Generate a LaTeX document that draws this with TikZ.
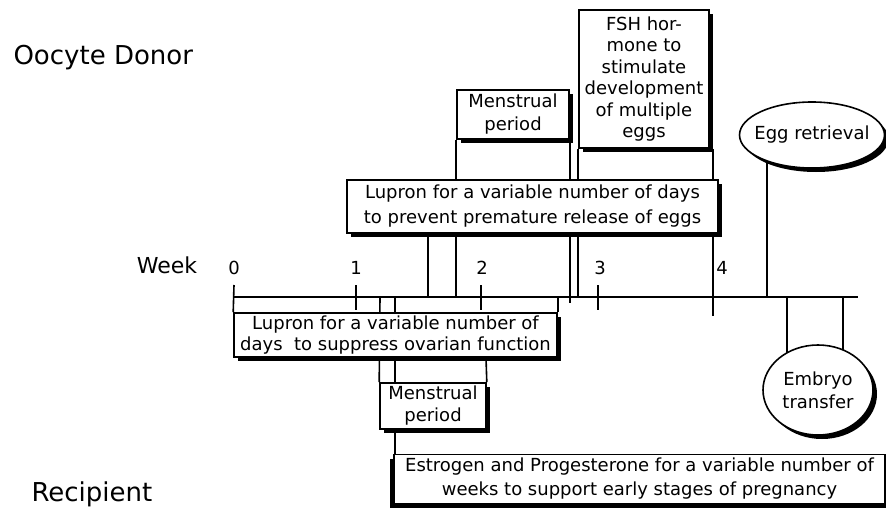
\documentclass[tikz,border=0pt]{standalone}
\usepackage{fontspec}
\setmainfont{DejaVu Sans}
\usetikzlibrary{shadows,backgrounds,shapes.geometric}

\begin{document}
\begin{tikzpicture}[x=1pt, y=-1pt,
  box/.style={draw, line width=1.6pt, fill=white, align=center, inner sep=1pt,
    font=\fontsize{18}{25}\selectfont,
    drop shadow={shadow xshift=4pt, shadow yshift=-4pt, fill=black, opacity=1}},
  oval/.style={box, ellipse},
  lbl/.style={font=\fontsize{26}{30}\selectfont},
  num/.style={font=\fontsize{18}{20}\selectfont},
  link/.style={line width=1.6pt}]

\useasboundingbox (0,0) rectangle (886,508);

\node[lbl, anchor=west] (donor) at (10,58) {Oocyte Donor};
\node[lbl, anchor=west] (recip) at (28,494) {Recipient};
\node[font=\fontsize{22}{24}\selectfont] (week) at (167,265) {Week};

\node[box, minimum width=371pt, minimum height=53pt] (lupU) at (532.5,206.5)
  {Lupron for a variable number of days\\to prevent premature release of eggs};
\node[box, minimum width=112pt, minimum height=49pt, font=\fontsize{18}{23}\selectfont] (menU) at (513,114.5)
  {Menstrual\\period};
\node[box, minimum width=130pt, minimum height=138pt,
  font=\fontsize{18}{21.5}\selectfont] (fsh) at (644,79)
  {FSH hor-\\mone to\\stimulate\\development\\of multiple\\eggs};
\node[oval, inner xsep=-14pt, minimum width=145pt, minimum height=66pt] (egg) at (812,135)
  {Egg retrieval};

\node[box, minimum width=323pt, minimum height=44pt, inner sep=0pt, font=\fontsize{18}{21.5}\selectfont] (lupL) at (395.5,335)
  {Lupron for a variable number of\\days\ \ to suppress ovarian function};
\node[box, minimum width=106pt, minimum height=46pt, font=\fontsize{18}{22}\selectfont] (menL) at (433,406)
  {Menstrual\\period};
\node[oval, minimum width=110pt, minimum height=90pt, font=\fontsize{18}{23}\selectfont] (emb) at (818,390)
  {Embryo\\transfer};
\node[box, minimum width=491pt, minimum height=49pt, font=\fontsize{18}{24}\selectfont,
  drop shadow={shadow xshift=-4pt, shadow yshift=-4pt, fill=black, opacity=1}] (estr) at (639.5,479)
  {Estrogen and Progesterone for a variable number of\\weeks to support early stages of pregnancy};

\coordinate (ax0) at (234,297);
\coordinate (axE) at (858,297);
\coordinate (a380) at (380,297);
\coordinate (a395) at (395,297);
\coordinate (a428) at (428,297);
\coordinate (a486) at (486,297);
\coordinate (a713) at (713,297);
\coordinate (a767) at (767,297);
\coordinate (a787) at (787,297);
\coordinate (a843) at (843,297);

\node[num] (n0) at (234,268) {0};
\node[num] (n4) at (722,268) {4};
\foreach \w/\x/\lx in {1/356/356,2/481/482,3/598/600} {
  \node[num] (n\w) at (\lx,268) {\w};
  \coordinate (t\w) at (\x,285);
}

\begin{scope}[on background layer]
\draw[link] (ax0) -- (axE);
\draw[link] (ax0 |- t1) -- (lupL.north west);
\foreach \w in {1,2,3}
  \draw[link] (t\w) -- ++(0,25);
\draw[link] (menU.south west) -- (menU.south west |- ax0);
\draw[link] (menU.south east) -- ++(0,163);
\draw[link] (fsh.south west) -- (fsh.south west |- ax0);
\draw[link] (fsh.south -| a713) -- (a713) -- ++(0,19);
\draw[link] (lupU.south -| a428) -- (a428);
\draw[link] (egg.center -| a767) -- (a767);
\draw[link] (a787) -- (a787 |- emb.center);
\draw[link] (a843) -- (a843 |- emb.center);
\draw[link] (lupL.north east |- ax0) -- (lupL.north east);
\draw[link] (a380) -- (menL.north west);
\draw[link] (a395) -- (a395 |- estr.north);
\draw[link] (lupL.south -| a486) -- (menL.north east);
\end{scope}

\end{tikzpicture}
\end{document}
